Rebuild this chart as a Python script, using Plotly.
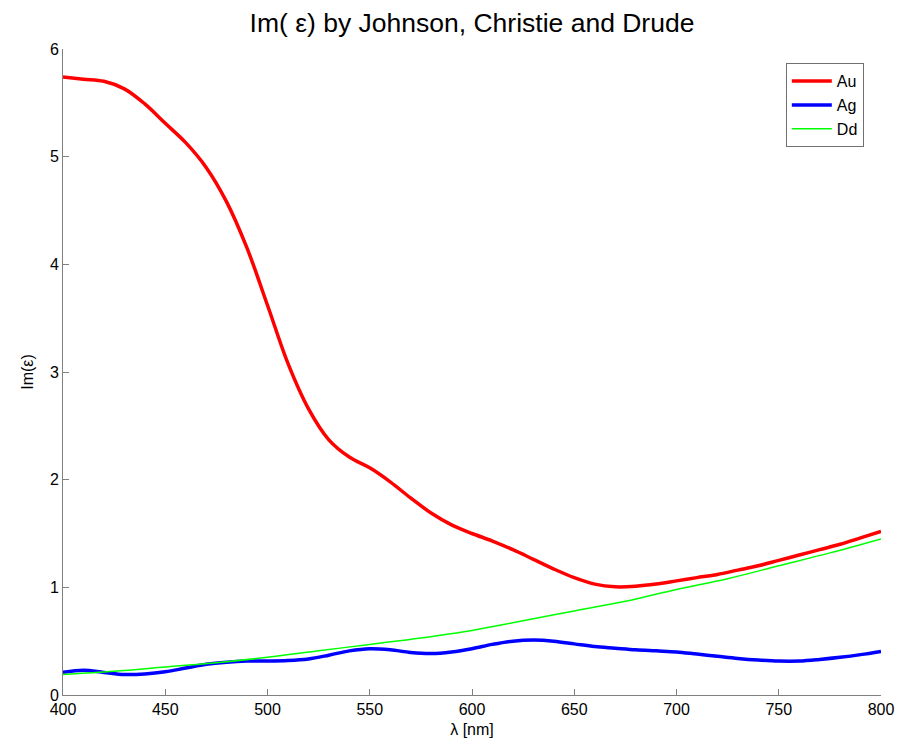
import plotly.graph_objects as go

wl = [400, 410, 420, 430, 440, 450, 460, 470, 480, 490, 500, 510, 520, 530, 540,
      550, 560, 570, 580, 590, 600, 610, 620, 630, 640, 650, 660, 670, 680, 690,
      700, 710, 720, 730, 740, 750, 760, 770, 780, 790, 800]
au = [5.74, 5.72, 5.70, 5.63, 5.49, 5.31, 5.13, 4.90, 4.58, 4.15, 3.62, 3.08, 2.66, 2.37, 2.21,
      2.11, 1.98, 1.83, 1.69, 1.58, 1.50, 1.43, 1.35, 1.26, 1.17, 1.09, 1.03, 1.005, 1.01, 1.03,
      1.06, 1.09, 1.12, 1.16, 1.20, 1.25, 1.30, 1.35, 1.40, 1.46, 1.52]
ag = [0.21, 0.23, 0.21, 0.19, 0.195, 0.215, 0.25, 0.285, 0.305, 0.315, 0.315, 0.32, 0.335, 0.37, 0.41,
      0.43, 0.42, 0.395, 0.385, 0.40, 0.43, 0.47, 0.50, 0.51, 0.50, 0.475, 0.45, 0.435, 0.42, 0.41,
      0.40, 0.38, 0.36, 0.34, 0.325, 0.315, 0.315, 0.33, 0.35, 0.375, 0.405]
wl_dd = [400, 425, 450, 475, 500, 525, 550, 575, 600, 625, 650, 675, 700, 725, 750, 775, 800]
dd = [0.19, 0.22, 0.26, 0.30, 0.35, 0.41, 0.47, 0.53, 0.60, 0.69, 0.78, 0.87, 0.98, 1.08, 1.20, 1.32, 1.45]

x_ticks = [400, 450, 500, 550, 600, 650, 700, 750, 800]
y_ticks = [0, 1, 2, 3, 4, 5, 6]

fig = go.Figure()
fig.add_trace(go.Scatter(x=wl, y=au, name="Au", mode="lines",
                         line=dict(color="#ff0000", width=3.5, shape="spline")))
fig.add_trace(go.Scatter(x=wl, y=ag, name="Ag", mode="lines",
                         line=dict(color="#0000ff", width=3.5, shape="spline")))
fig.add_trace(go.Scatter(x=wl_dd, y=dd, name="Dd", mode="lines",
                         line=dict(color="#00ff00", width=1.5, shape="spline")))

font_family = "Liberation Sans, Arial, sans-serif"
fig.update_layout(
    width=902, height=746,
    margin=dict(l=63, r=21, t=49, b=51),
    paper_bgcolor="white", plot_bgcolor="white",
    font=dict(family=font_family, size=16, color="black"),
    title=dict(text="Im( ε) by Johnson, Christie and Drude", x=0.5, xanchor="center", xref="paper",
               y=0.97, yanchor="middle", font=dict(size=26.5, family=font_family, color="black")),
    showlegend=True,
    legend=dict(x=0.979, y=0.978, xanchor="right", yanchor="top",
                bordercolor="#707070", borderwidth=1, bgcolor="white",
                font=dict(size=16, family=font_family), itemwidth=40,
                tracegroupgap=0),
    xaxis=dict(range=[400, 800], tickvals=x_ticks, ticks="inside", ticklen=6,
               tickcolor="#808080", showline=True, linecolor="#808080", linewidth=1,
               showgrid=False, zeroline=False, mirror=False, automargin=False,
               title=dict(text="λ [nm]", font=dict(size=16), standoff=6)),
    yaxis=dict(range=[0, 6], tickvals=y_ticks, ticks="inside", ticklen=6,
               tickcolor="#808080", showline=True, linecolor="#808080", linewidth=1,
               showgrid=False, zeroline=False, mirror=False, automargin=False,
               title=dict(text="Im(ε)", font=dict(size=16), standoff=12)),
)

fig.write_html("out.html")
